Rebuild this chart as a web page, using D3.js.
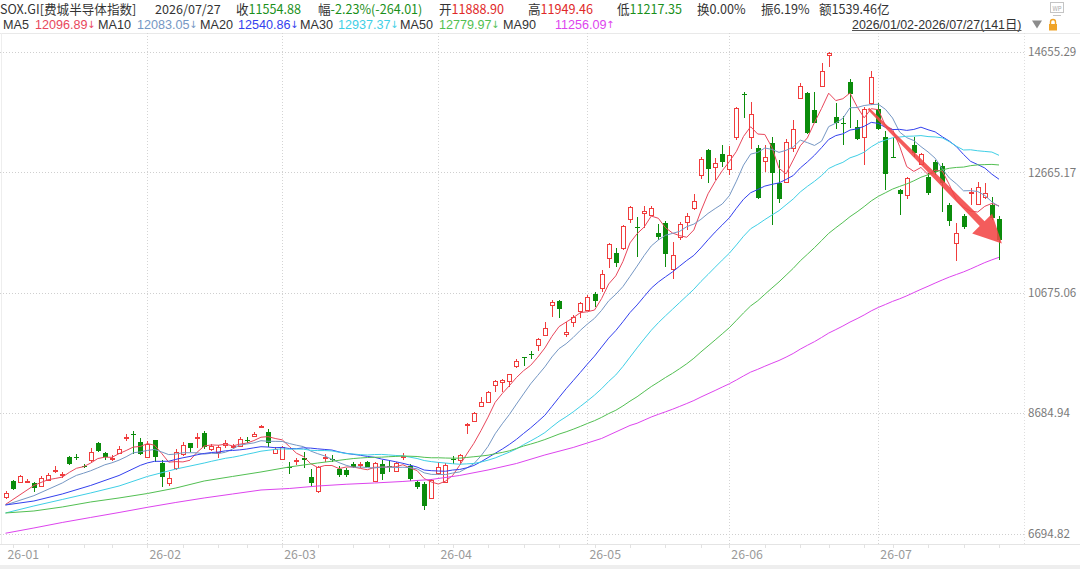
<!DOCTYPE html>
<meta charset="utf-8">
<script src="https://cdn.jsdelivr.net/npm/d3@7"></script>
<style>
  body { margin: 0; background: #fff; }
  svg text { font-family: "Noto Sans CJK SC", "Noto Sans", sans-serif; }
  svg text.row2 { font-family: "Liberation Sans", "Noto Sans CJK SC", sans-serif; }
</style>
<div id="chart"></div>
<script>
// trading days of 2026, one list per month
const monthDays = [
  [2,5,6,7,8,9,12,13,14,15,16,20,21,22,23,26,27,28,29,30],
  [2,3,4,5,6,9,10,11,12,13,17,18,19,20,23,24,25,26,27],
  [2,3,4,5,6,9,10,11,12,13,16,17,18,19,20,23,24,25,26,27,30,31],
  [1,2,6,7,8,9,10,13,14,15,16,17,20,21,22,23,24,27,28,29,30],
  [1,4,5,6,7,8,11,12,13,14,15,18,19,20,21,22,26,27,28,29],
  [1,2,3,4,5,8,9,10,11,12,15,16,17,18,22,23,24,25,26,29,30],
  [1,2,6,7,8,9,10,13,14,15,16,17,20,21,22,23,24,27]
];
const monthLabels = ["26-01", "26-02", "26-03", "26-04", "26-05", "26-06", "26-07"];

const opens = [7299,7563,7547,7558,7530,7480,7580,7728,7671,7960, 7960,7811,7902,8183,8021,7930,8026,8282,8343,8200,
  7960,8233,7856,7535,7773,8006,8186,8266,8352,8087, 8034,8158,8133,8137,8246,8307,8456,8378,8031,7922,
  7791,7902,7943,7624,7398,7943,7919,7761,7745,7844, 7828,7882,7555,7848,7819,7733,7960,7803,7552,7514,
  7277,7690,7552,7927,7910,8501,8563,8808,8874,9145, 9205,9216,9464,9608,9668,9812,9977,10473,10539,9988,
  10197,10378,10390,10655,10754,11245,11327,11410,11890,11757, 11989,11961,11668,11823,11063,11592,11840,12071,12622,13035,
  12759,12969,12716,13245,13961,13245,13063,12858,13146,12495, 12511,13063,13890,13973,13697,14098,14606,13586,13487,14164,
  13420,13245,13807,13708,13255,12920,12375,12291,13118,12804, 12594,12833,12771,12134,11493,11944,12320,12143,12253,12127,
  11888.90];
const highs = [7398,7580,7662,7596,7547,7646,7695,7811,7712,7976, 8010,7852,8109,8200,8043,7993,8142,8340,8390,8266,
  8216,8246,7910,7712,8092,8203,8191,8352,8395,8167, 8158,8241,8175,8295,8291,8365,8489,8418,8117,8142,
  7877,7948,8043,7753,7819,8010,7993,7803,7778,7882, 7882,7894,7885,7910,7910,7877,8021,7844,7580,7547,
  7596,7882,7861,7976,8010,8514,8704,8947,9051,9233, 9241,9340,9572,9613,9717,9919,10197,10555,10547,10197,
  10307,10527,10638,10693,11051,11498,11410,11795,12109,11923, 12109,12109,11812,11861,11509,11850,11999,12303,12924,13052,
  12898,13118,13101,13746,13999,13834,13118,13118,13255,12870, 13212,13531,14138,13994,13999,14469,14660,13807,13597,14204,
  13531,13751,14341,13807,13349,13229,12391,12594,13255,12986, 12660,12870,12820,12162,11833,11977,12403,12511,12485,12265,
  11949.46];
const lows = [7266,7414,7522,7530,7381,7464,7563,7695,7613,7828, 7910,7778,7885,8043,7910,7894,8010,8224,8010,7993,
  7943,7877,7464,7480,7745,7976,8043,8109,8100,8059, 7938,8114,8109,8125,8186,8291,8439,8125,8010,7902,
  7671,7828,7778,7480,7365,7877,7877,7624,7629,7773, 7773,7786,7538,7580,7717,7712,7910,7563,7426,7084,
  7257,7662,7538,7844,7828,8340,8547,8792,8853,9039, 9039,9122,9426,9464,9575,9717,9960,10279,10253,9942,
  10114,10253,10374,10445,10688,11084,11106,11382,11823,11271, 11741,11944,11547,11106,10898,11547,11713,12043,12551,12485,
  12539,12749,12622,13201,13559,13047,12217,12677,11795,12154, 12490,13007,13878,13300,13477,14082,14412,13377,13118,13394,
  13201,12787,13779,13366,12375,12898,11961,12222,12924,12787, 12291,12622,12010,11779,11205,11724,12127,12127,12220,11880,
  11217.35];
const closes = [7365,7431,7638,7563,7447,7613,7662,7737,7679,7836, 7952,7795,8034,8051,7952,7938,8100,8291,8335,8005,
  8175,7965,7621,7608,8048,8150,8104,8282,8117,8142, 8125,8191,8142,8253,8238,8332,8467,8191,8100,8125,
  7785,7910,7910,7522,7800,7952,7910,7654,7654,7800, 7836,7800,7856,7671,7803,7861,7968,7588,7456,7142,
  7580,7795,7828,7919,7993,8505,8682,8874,9039,9216, 9233,9327,9552,9602,9658,9906,10088,10517,10407,10031,
  10269,10501,10600,10544,10980,11476,11172,11779,12088,11741, 12027,12081,11592,11311,11299,11812,11949,12197,12881,12716,
  12825,12842,12953,13725,13953,13627,12237,12915,12660,12220, 13173,13377,14098,13311,13487,14341,14634,13487,13465,13961,
  13212,13708,14247,13377,12638,12911,12309,12567,12981,12964, 12329,12672,12495,11857,11668,11757,12347,12419,12329,11908,
  11554.88];

// moving-average values for the first bars (every 4th bar),
// before a full window of closes exists
const ma5Head = [7175];
const ma10Head = [7166, 7320, 7530];
const ma20Head = [7166, 7232, 7348, 7489, 7654];
const ma30Head = [7034, 7150, 7257, 7365, 7480, 7638, 7760, 7860];
const ma50Head = [7034, 7067, 7133, 7216, 7282, 7356, 7447, 7563, 7638, 7712, 7795, 7860, 7920];
const ma90Head = [6699, 6786, 6877, 6960, 7042, 7128, 7208, 7282, 7348, 7414, 7439, 7480,
  7509, 7530, 7555, 7588, 7654, 7745, 7852, 7993, 8117, 8266, 8481];
const maPeriods = [5, 10, 20, 30, 50, 90];
const maHeads = [ma5Head, ma10Head, ma20Head, ma30Head, ma50Head, ma90Head];
const maColors = ["#e8475c", "#7597c4", "#3340ee", "#3fcfe6", "#52bf52", "#dd44ee"];
const maLegendValues = ["12096.89", "12083.05", "12540.86", "12937.37", "12779.97", "11256.09"];
const maLegendArrows = ["↓", "↓", "↓", "↓", "↓", "↑"];

const yTicks = [14655.29, 12665.17, 10675.06, 8684.94, 6694.82];

// header quote line
const quoteLabels = ["收", "幅", "开", "高", "低"];
const quoteValues = ["11554.88", "-2.23%(-264.01)", "11888.90", "11949.46", "11217.35"];
const quoteColors = ["#1a8f1a", "#1a8f1a", "#e02828", "#e02828", "#1a8f1a"];
const quoteExtra = ["换0.00%", "振6.19%", "额1539.46亿"];

// annotation arrow (bar index, price)
const arrowFrom = [121.6, 13720];
const arrowTo = [140.4, 11490];

const width = 1080, height = 569;
const plotRight = 1024.5, plotTop = 33, axisY = 544;
const upColor = "#f03c3c", downColor = "#0b8c0b";
const headSize = "12.6px";

const dates = [];
monthDays.forEach((days, m) => days.forEach(d => dates.push(new Date(2026, m, d))));
const n = dates.length;

const svg = d3.select("#chart")
  .append("svg")
  .attr("width", width)
  .attr("height", height);

const x = d3.scalePoint()
  .domain(d3.range(n))
  .range([5.5, 999]);
const xi = d3.scaleLinear().domain([0, n - 1]).range([5.5, 999]);
const y = d3.scaleLinear()
  .domain([6694.82, 14655.29])
  .range([533.5, 52]);

// header separator and axis line
svg.append("line").attr("x1", 0).attr("x2", width).attr("y1", 33.5).attr("y2", 33.5)
  .attr("stroke", "#e9e9e9");
svg.append("line").attr("x1", 0).attr("x2", width).attr("y1", axisY + 0.5).attr("y2", axisY + 0.5)
  .attr("stroke", "#e4e4e4");
svg.append("rect").attr("x", 0).attr("y", 565).attr("width", width).attr("height", 4)
  .attr("fill", "#eeeeee");

// grid
const monthStarts = d3.range(n).filter(i => i === 0 || dates[i].getMonth() !== dates[i - 1].getMonth());
const weekStarts = d3.range(n).filter(i => i > 0 && +d3.timeMonday.floor(dates[i]) !== +d3.timeMonday.floor(dates[i - 1]));

svg.append("g")
  .selectAll("line")
  .data(yTicks)
  .join("line")
    .attr("x1", 0).attr("x2", plotRight)
    .attr("y1", d => Math.round(y(d)) + 0.5).attr("y2", d => Math.round(y(d)) + 0.5)
    .attr("stroke", "#cfcfcf").attr("stroke-dasharray", "1,2");

svg.append("g")
  .selectAll("line")
  .data(monthStarts.slice(1))
  .join("line")
    .attr("x1", d => Math.round(x(d)) + 0.5).attr("x2", d => Math.round(x(d)) + 0.5)
    .attr("y1", plotTop).attr("y2", axisY)
    .attr("stroke", "#d4d4d4").attr("stroke-dasharray", "1,2");

svg.append("line").attr("x1", plotRight).attr("x2", plotRight).attr("y1", plotTop).attr("y2", axisY)
  .attr("stroke", "#dedede").attr("stroke-dasharray", "1,2");
svg.append("line").attr("x1", 1.5).attr("x2", 1.5).attr("y1", plotTop).attr("y2", axisY)
  .attr("stroke", "#eeeeee");

// week ticks under the axis
svg.append("g")
  .selectAll("line")
  .data(weekStarts)
  .join("line")
    .attr("x1", d => Math.round(x(d)) + 0.5).attr("x2", d => Math.round(x(d)) + 0.5)
    .attr("y1", axisY).attr("y2", axisY + 4)
    .attr("stroke", "#e2e2e2");

// axis labels
svg.append("g")
  .selectAll("text")
  .data(yTicks)
  .join("text")
    .attr("x", 1028)
    .attr("y", d => y(d))
    .attr("dy", "0.36em")
    .style("font-size", "11.6px")
    .style("fill", "#7a7a7a")
    .text(d => d.toFixed(2));

svg.append("g")
  .selectAll("text")
  .data(monthStarts)
  .join("text")
    .attr("x", d => x(d) + 2)
    .attr("y", 558.5)
    .style("font-size", "12.3px")
    .style("fill", "#9a9a9a")
    .text((d, k) => monthLabels[k]);

// candles
const candles = svg.append("g")
  .attr("shape-rendering", "crispEdges")
  .selectAll("g")
  .data(d3.range(n))
  .join("g");
const isUp = i => closes[i] >= opens[i];
const bodyW = 5;

candles.append("line")
  .attr("x1", i => Math.round(x(i)) + 0.5)
  .attr("x2", i => Math.round(x(i)) + 0.5)
  .attr("y1", i => y(highs[i]))
  .attr("y2", i => y(lows[i]))
  .attr("stroke", i => isUp(i) ? upColor : downColor);

candles.append("rect")
  .attr("x", i => Math.round(x(i)) - 2 + (isUp(i) ? 0.5 : 0))
  .attr("width", i => isUp(i) ? bodyW - 1 : bodyW)
  .attr("y", i => Math.min(y(opens[i]), y(closes[i])) + (isUp(i) ? 0.5 : 0))
  .attr("height", i => Math.max(Math.abs(y(opens[i]) - y(closes[i])), 1))
  .attr("fill", i => isUp(i) ? "#fff" : downColor)
  .attr("stroke", i => isUp(i) ? upColor : "none");

// moving averages
function movingAverage(p, head) {
  const pts = head.map((v, k) => [k * 4, v]);
  let sum = 0;
  closes.forEach((c, i) => {
    sum += c;
    if (i >= p) sum -= closes[i - p];
    if (i >= p - 1) pts.push([i, sum / p]);
  });
  return pts;
}

const line = d3.line()
  .x(d => xi(d[0]))
  .y(d => y(d[1]));

svg.append("g")
  .selectAll("path")
  .data(maPeriods.map((p, k) => movingAverage(p, maHeads[k])))
  .join("path")
    .attr("d", line)
    .attr("fill", "none")
    .attr("stroke", (d, k) => maColors[k])
    .attr("stroke-width", 1);

// red trend arrow
{
  const p0 = [xi(arrowFrom[0]), y(arrowFrom[1])];
  const p1 = [xi(arrowTo[0]), y(arrowTo[1])];
  const len = Math.hypot(p1[0] - p0[0], p1[1] - p0[1]);
  const u = [(p1[0] - p0[0]) / len, (p1[1] - p0[1]) / len];
  const nv = [-u[1], u[0]];
  const headLen = 28, headW = 14, w0 = 1.2, w1 = 3.4;
  const b = [p1[0] - u[0] * headLen, p1[1] - u[1] * headLen];
  const pt = (p, k) => [p[0] + nv[0] * k, p[1] + nv[1] * k];
  const poly = [pt(p0, w0), pt(b, w1), pt(b, headW), p1, pt(b, -headW), pt(b, -w1), pt(p0, -w0)];
  svg.append("path")
    .attr("d", "M" + poly.map(p => p.join(",")).join("L") + "Z")
    .attr("fill", "#f24646")
    .attr("fill-opacity", 0.88);
}

// header line 1
const row1 = 13.5, row2 = 28.5;
const head1 = svg.append("g").style("font-size", headSize);
head1.append("text").attr("x", 0).attr("y", row1).style("fill", "#333").text("SOX.GI[费城半导体指数]");
head1.append("text").attr("x", 155).attr("y", row1).style("fill", "#333").text("2026/07/27");
const quoteX = [236, 318, 439, 528, 617];
quoteLabels.forEach((t, k) => {
  const txt = head1.append("text").attr("x", quoteX[k]).attr("y", row1).style("fill", "#333");
  txt.append("tspan").text(t);
  txt.append("tspan").style("fill", quoteColors[k]).text(quoteValues[k]);
});
const extraX = [697, 761, 819];
quoteExtra.forEach((t, k) => {
  head1.append("text").attr("x", extraX[k]).attr("y", row1).style("fill", "#333").text(t);
});

// header line 2: MA legend
const head2 = svg.append("g").style("font-size", "12.6px");
const legendX = [3, 98, 200, 300, 400, 503];
const legendValX = [35, 137, 238, 338, 439, 555];
maPeriods.forEach((p, k) => {
  head2.append("text").attr("class", "row2").attr("x", legendX[k]).attr("y", row2)
    .style("fill", "#333").text("MA" + p);
  const v = head2.append("text").attr("class", "row2").attr("x", legendValX[k]).attr("y", row2)
    .style("fill", maColors[k]).text(maLegendValues[k]);
  const w = v.node().getComputedTextLength();
  head2.append("text").attr("x", legendValX[k] + w - 0.5).attr("y", row2 - 0.5)
    .style("font-family", "DejaVu Sans").style("font-size", "10px")
    .style("fill", maColors[k]).text(maLegendArrows[k]);
});

// date range, dropdown and lock
const range = head2.append("text").attr("class", "row2").attr("x", 852).attr("y", row2)
  .style("font-size", "12.4px")
  .style("fill", "#333").text("2026/01/02-2026/07/27(141日)");
const rw = range.node().getComputedTextLength();
svg.append("line").attr("x1", 852).attr("x2", 852 + rw).attr("y1", 30.5).attr("y2", 30.5)
  .attr("stroke", "#555");
svg.append("path").attr("d", "M1032,20.5L1042,20.5L1037,28.5Z").attr("fill", "#8c8c8c");
svg.append("path").attr("d", "M1050.5,24.5V22a2.5,2.5 0 0 1 5,0V24.5")
  .attr("fill", "none").attr("stroke", "#f0a428").attr("stroke-width", 1.4);
svg.append("rect").attr("x", 1049).attr("y", 24).attr("width", 8).attr("height", 6.5).attr("fill", "#f0a428");

// small WP monitor icon
svg.append("rect").attr("x", 1050.5).attr("y", 2.5).attr("width", 13).attr("height", 10)
  .attr("fill", "none").attr("stroke", "#c4c4c4");
svg.append("text").attr("x", 1057).attr("y", 10.5).attr("text-anchor", "middle")
  .style("font-size", "6px").style("fill", "#aaa").text("WP");
svg.append("line").attr("x1", 1053).attr("x2", 1061).attr("y1", 15.5).attr("y2", 15.5).attr("stroke", "#c4c4c4");
</script>
